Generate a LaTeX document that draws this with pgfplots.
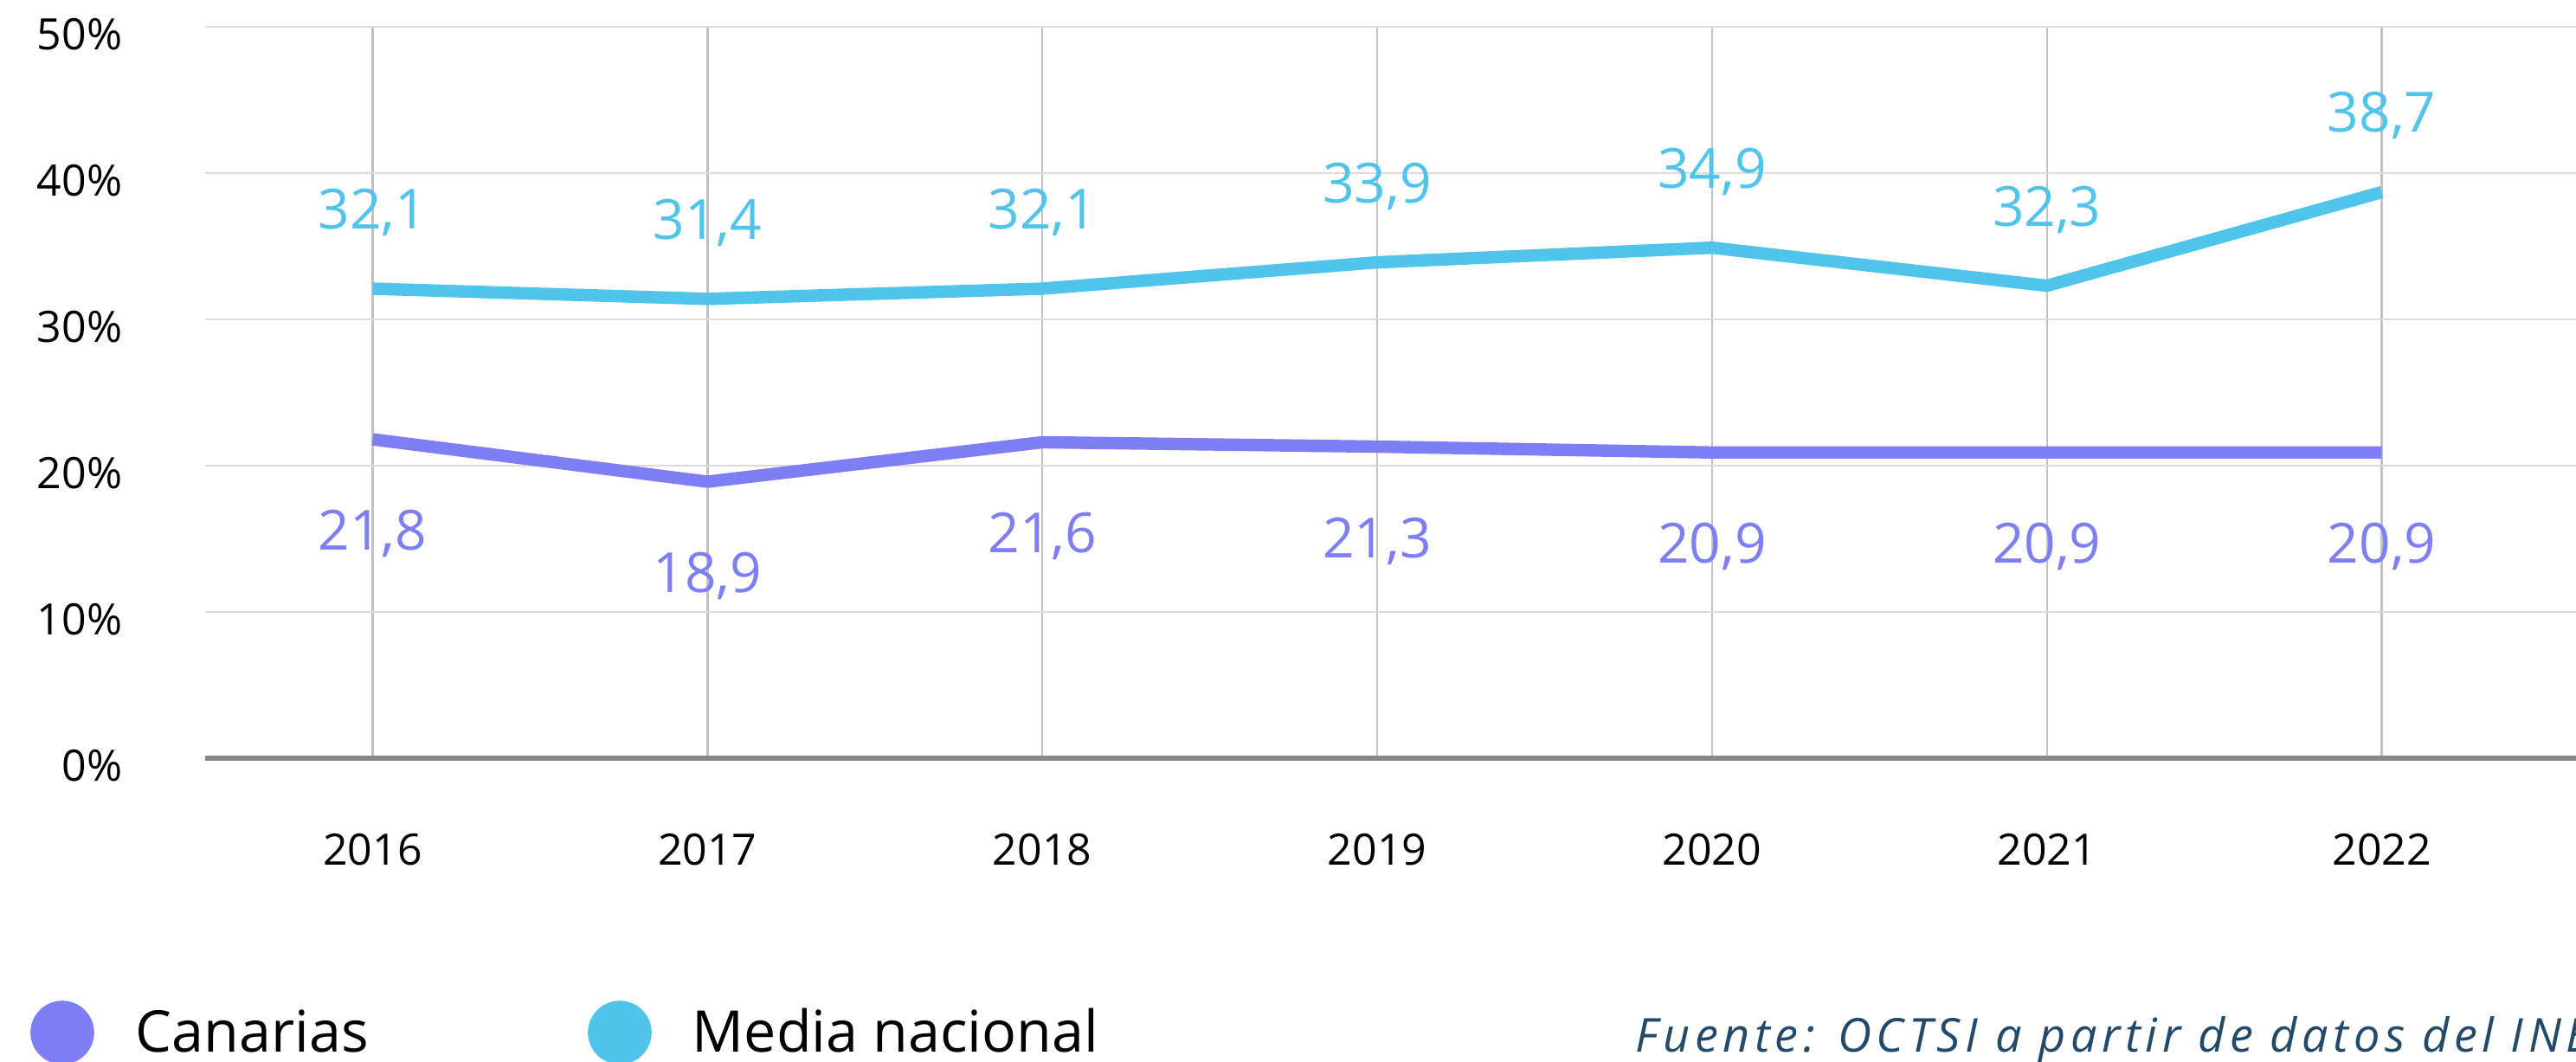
\documentclass[border=0pt]{standalone}
\usepackage{pgfplots}
\pgfplotsset{compat=1.18}
\usepackage{fontspec}
\setmainfont{Open Sans}
\definecolor{canar}{HTML}{7F7FF5}
\definecolor{media}{HTML}{50C4EA}
\definecolor{fuente}{HTML}{244A6B}
\definecolor{vgrid}{HTML}{C2C2C2}
\definecolor{hgrid}{HTML}{DCDCDC}
\definecolor{axisgray}{HTML}{888888}
\begin{document}
\begin{tikzpicture}
\useasboundingbox (-59.25pt,-87.75pt) rectangle (684.75pt,219pt);
\begin{axis}[
  at={(0pt,0pt)}, anchor=south west,
  width=684.75pt, height=211.25pt, scale only axis,
  xmin=-0.5, xmax=6.58, ymin=0, ymax=50,
  xtick={0,1,2,3,4,5,6},
  xticklabels={2016,2017,2018,2019,2020,2021,2022},
  ytick={0,10,20,30,40,50},
  yticklabel={\pgfmathprintnumber{\tick}\%},
  axis line style={draw=none},
  major tick length=0pt,
  xmajorgrids, ymajorgrids,
  x grid style={color=vgrid, line width=0.6pt},
  y grid style={color=hgrid, line width=0.7pt},
  clip=false,
  /pgf/number format/assume math mode=true,
  ticklabel style={font=\fontsize{12.5}{15}\selectfont, inner sep=0pt},
  xticklabel style={anchor=base, yshift=-30.9pt},
  yticklabel style={anchor=base east, xshift=-23.75pt, yshift=-6.6pt},
]
\draw[draw=axisgray, line width=1.6pt] (axis cs:-0.5,0) -- (axis cs:6.58,0);
\addplot[media, line width=3.6pt, line join=round,
  nodes near coords={\pgfmathprintnumber[fixed,fixed zerofill,precision=1,use comma]{\pgfplotspointmeta}},
  nodes near coords style={anchor=base, yshift=17.25pt, inner sep=0pt, text=media, font=\fontsize{16}{19}\selectfont}]
  coordinates {(0,32.1) (1,31.4) (2,32.1) (3,33.9) (4,34.9) (5,32.3) (6,38.7)};
\addplot[canar, line width=3.6pt, line join=round,
  nodes near coords={\pgfmathprintnumber[fixed,fixed zerofill,precision=1,use comma]{\pgfplotspointmeta}},
  nodes near coords style={anchor=base, yshift=-32pt, inner sep=0pt, text=canar, font=\fontsize{16}{19}\selectfont}]
  coordinates {(0,21.8) (1,18.9) (2,21.6) (3,21.3) (4,20.9) (5,20.9) (6,20.9)};
\end{axis}
\fill[canar] (-41.25pt,-79.25pt) circle (9.2pt);
\node[anchor=base west, inner sep=0pt, text depth=0pt, font=\fontsize{16.6}{19}\selectfont] at (-20.25pt,-85pt) {Canarias};
\fill[media] (119.75pt,-79.25pt) circle (9.2pt);
\node[anchor=base west, inner sep=0pt, text depth=0pt, font=\fontsize{16.6}{19}\selectfont] at (140.5pt,-85pt) {Media nacional};
\begin{scope}
\clip (-59.25pt,-87.75pt) rectangle (684.75pt,219pt);
\node[anchor=base west, inner sep=0pt, text depth=0pt, font=\itshape\fontsize{13.5}{16}\selectfont\addfontfeature{LetterSpace=10.5}, text=fuente] at (413pt,-85pt) {Fuente: OCTSI a partir de datos del INE};
\end{scope}
\end{tikzpicture}
\end{document}
